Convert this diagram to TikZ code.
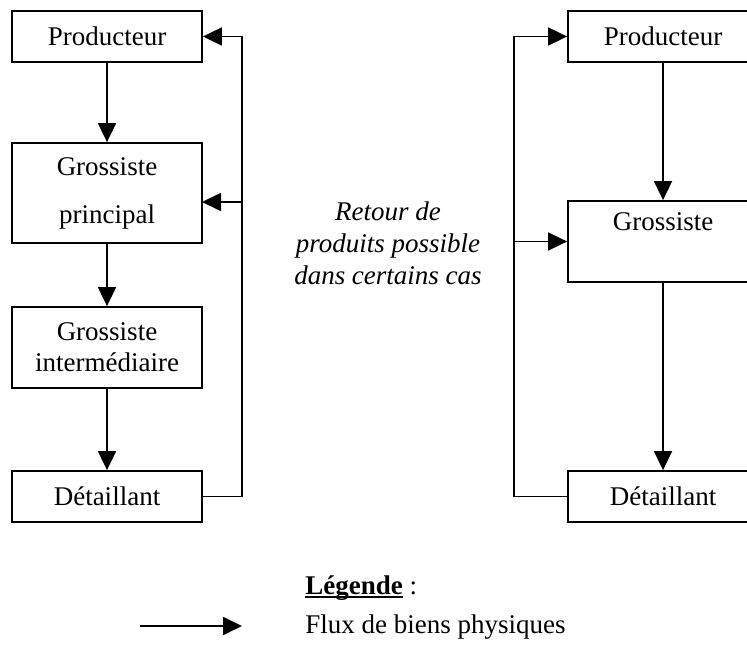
\documentclass[tikz,border=0pt]{standalone}
\usepackage{fontspec}
\setmainfont{Liberation Serif}
\usetikzlibrary{arrows.meta}
\newcommand\myuline[1]{\setbox0\hbox{#1}\rlap{\rule[-1.8pt]{\wd0}{1pt}}\box0\relax}
\begin{document}
\begin{tikzpicture}[x=0.5pt,y=-0.5pt,
  font=\fontsize{13.5}{15.5}\selectfont,
  box/.style={draw,line width=0.9pt,minimum width=95pt,inner sep=0pt,align=center},
  flow/.style={draw,line width=0.9pt,-{Triangle[length=9.5pt,width=9pt]}}]
\useasboundingbox (0,0) rectangle (747,646);
% left chain
\node[box,minimum height=25.5pt] (P1) at (107,36.5) {Producteur};
\node[box,minimum height=50pt] (G1) at (107,193) {Grossiste\\[8.5pt]principal};
\node[box,minimum height=40.5pt] (GI) at (107,347.5) {Grossiste\\intermédiaire};
\node[box,minimum height=25.5pt] (D1) at (107,496.5) {Détaillant};
% right chain
\node[box,minimum height=25.5pt] (P2) at (663,36.5) {Producteur};
\node[box,minimum height=40.5pt] (G2) at (663,241.5) {Grossiste\\\strut};
\node[box,minimum height=25.5pt] (D2) at (663,496.5) {Détaillant};
% middle text
\node[align=center,font=\fontsize{13.5}{16}\selectfont\itshape] (ret) at (388,243) {Retour de\\produits possible\\dans certains cas};
% legend
\node[anchor=west,inner sep=0pt] (leg) at (305,588) {\myuline{\textbf{Légende}} :};
\node[anchor=west,inner sep=0pt] (flux) at (305,627) {Flux de biens physiques};
\coordinate (la) at (140,626);
\coordinate (lb) at (242,626);
\draw[flow] (la) -- (lb);
% left arrows
\draw[flow] (P1.south) -- (G1.north);
\draw[flow] (G1.south) -- (GI.north);
\draw[flow] (GI.south) -- (D1.north);
\coordinate (fbL) at (242,0);
\coordinate (G1in) at (202,202);
\draw[flow] (D1.east) -- (fbL |- D1.east) |- (P1.east);
\draw[flow] (fbL |- G1in) -- (G1in);
% right arrows
\draw[flow] (P2.south) -- (G2.north);
\draw[flow] (G2.south) -- (D2.north);
\coordinate (fbR) at (514,0);
\draw[flow] (D2.west) -- (fbR |- D2.west) |- (P2.west);
\draw[flow] (fbR |- G2.west) -- (G2.west);
\end{tikzpicture}
\end{document}
